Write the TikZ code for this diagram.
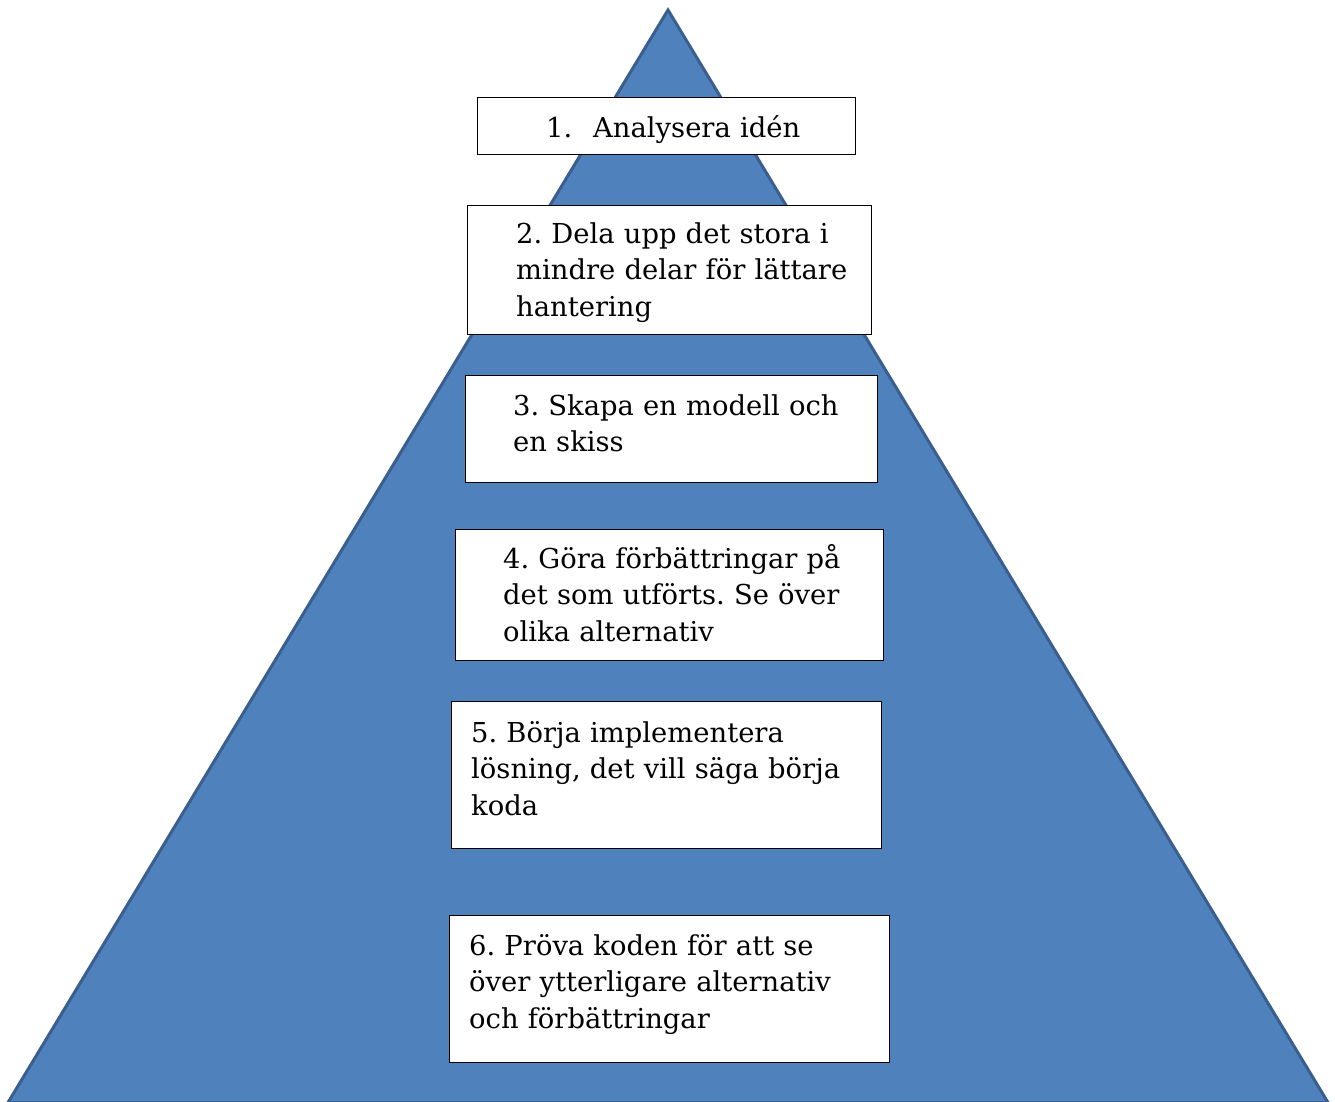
\documentclass[tikz,border=0pt]{standalone}
\usepackage{fontspec}
\setmainfont{DejaVu Serif}
\frenchspacing
\definecolor{pyrfill}{HTML}{4F81BD}
\definecolor{pyrline}{HTML}{3A5F8E}
\begin{document}
\begin{tikzpicture}[x=1pt,y=-1pt,
  box/.style={draw=black,line width=1.2pt,fill=white,inner sep=0pt,anchor=north west},
  txt/.style={inner sep=0pt,anchor=base west,align=left,text width=380pt,
    font=\frenchspacing\fontsize{27.4}{36.5}\selectfont}]
\useasboundingbox (0,0) rectangle (1335,1101);
\fill[white] (0,0) rectangle (1335,1101);
\coordinate (apex) at (668,10);
\coordinate (bl) at (8,1102.5);
\coordinate (br) at (1328,1102.5);
\draw[fill=pyrfill,draw=pyrline,line width=3pt,line join=miter] (apex) -- (br) -- (bl) -- cycle;

\node[box,minimum width=378pt,minimum height=57pt] (b1) at (477,97) {};
\node[txt] (t1) at (546,137) {\makebox[47pt][l]{1.}Analysera idén};

\node[box,minimum width=404pt,minimum height=129pt] (b2) at (467,205) {};
\node[txt] (t2) at (516,243) {2. Dela upp det stora i\\mindre delar för lättare\\hantering};

\node[box,minimum width=412pt,minimum height=107pt] (b3) at (465,375) {};
\node[txt] (t3) at (513,415) {3. Skapa en modell och\\en skiss};

\node[box,minimum width=428pt,minimum height=131pt] (b4) at (455,529) {};
\node[txt] (t4) at (503,568) {4. Göra förbättringar på\\det som utförts. Se över\\olika alternativ};

\node[box,minimum width=430pt,minimum height=147pt] (b5) at (451,701) {};
\node[txt] (t5) at (471,742) {5. Börja implementera\\lösning, det vill säga börja\\koda};

\node[box,minimum width=440pt,minimum height=147pt] (b6) at (449,915) {};
\node[txt] (t6) at (469,955) {6. Pröva koden för att se\\över ytterligare alternativ\\och förbättringar};
\end{tikzpicture}
\end{document}
